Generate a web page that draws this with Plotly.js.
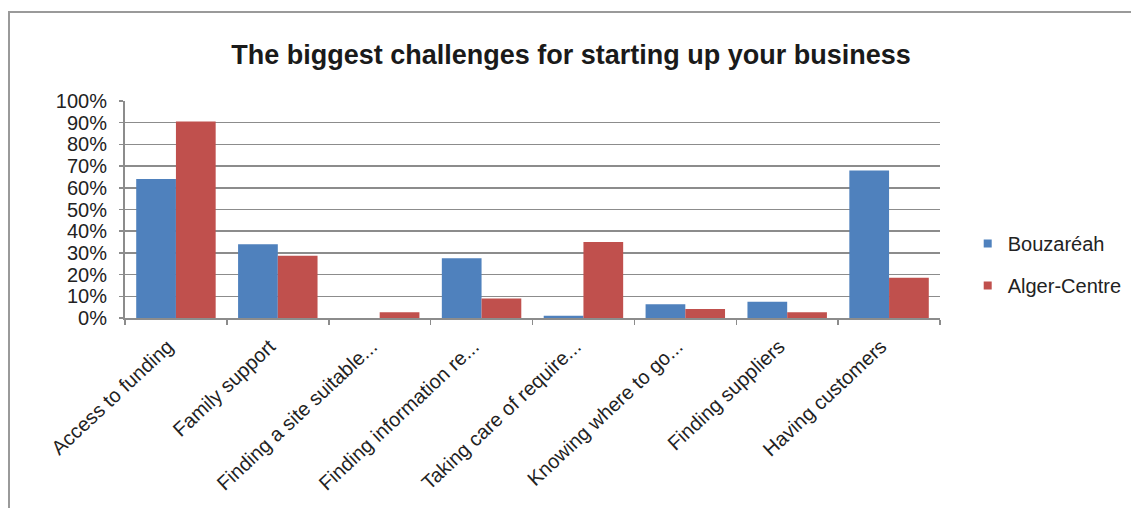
<!DOCTYPE html>
<html>
<head>
<meta charset="utf-8">
<script src="https://cdn.plot.ly/plotly-3.0.1.min.js"></script>
<style>
  html, body { margin: 0; padding: 0; background: #fff; }
  #wrap { position: relative; width: 1131px; height: 508px; overflow: hidden; }
  #frame { position: absolute; left: 8px; top: 11px; width: 1200px; height: 600px;
           border-left: 2px solid #9a9a9a; border-top: 2px solid #9a9a9a; pointer-events: none; }
  #chart { position: absolute; left: 0; top: 0; width: 1131px; height: 508px; }
</style>
</head>
<body>
<div id="wrap">
  <div id="chart"></div>
  <div id="frame"></div>
</div>
<script>
const categories = [
  "Access to funding",
  "Family support",
  "Finding a site suitable...",
  "Finding information re...",
  "Taking care of require...",
  "Knowing where to go...",
  "Finding suppliers",
  "Having customers"
];
const bouzareah = [0.64, 0.34, 0.0, 0.275, 0.01, 0.063, 0.075, 0.68];
const algerCentre = [0.905, 0.287, 0.026, 0.09, 0.35, 0.041, 0.026, 0.186];
const seriesNames = ["Bouzaréah", "Alger-Centre"];
const seriesColors = ["#4F81BD", "#C0504D"];
const yTickValues = [0, 0.1, 0.2, 0.3, 0.4, 0.5, 0.6, 0.7, 0.8, 0.9, 1.0];
const yTickLabels = ["0%", "10%", "20%", "30%", "40%", "50%", "60%", "70%", "80%", "90%", "100%"];

const font = "Liberation Sans, Arial, Helvetica, sans-serif";

const traces = [
  { type: "bar", name: seriesNames[0], x: categories, y: bouzareah,
    marker: { color: seriesColors[0] }, showlegend: false, hoverinfo: "skip" },
  { type: "bar", name: seriesNames[1], x: categories, y: algerCentre,
    marker: { color: seriesColors[1] }, showlegend: false, hoverinfo: "skip" },
  // legend-only entries (small square keys like the original)
  { type: "scatter", mode: "markers", name: seriesNames[0], x: [categories[0]], y: [null],
    marker: { color: seriesColors[0], symbol: "square", size: 8 }, legendgroup: "a", hoverinfo: "skip" },
  { type: "scatter", mode: "markers", name: seriesNames[1], x: [categories[0]], y: [null],
    marker: { color: seriesColors[1], symbol: "square", size: 8 }, legendgroup: "b", hoverinfo: "skip" }
];

const layout = {
  width: 1131, height: 508,
  margin: { l: 125, r: 191, t: 101, b: 190, autoexpand: false },
  paper_bgcolor: "rgba(0,0,0,0)",
  plot_bgcolor: "#fff",
  barmode: "group",
  bargap: 0.22,
  bargroupgap: 0,
  title: {
    text: "<b>The biggest challenges for starting up your business</b>",
    font: { family: font, size: 27, color: "#1a1a1a" },
    x: 571 / 1131, xref: "container", xanchor: "center",
    y: 1 - 55 / 508, yref: "container", yanchor: "middle"
  },
  xaxis: {
    type: "category",
    tickangle: -43,
    tickfont: { family: font, size: 20, color: "#222" },
    ticklabelstandoff: 7,
    ticklabelshift: -8,
    showline: true, linecolor: "#8c8c8c", linewidth: 2,
    ticks: "outside", tickson: "boundaries", ticklen: 5, tickcolor: "#8c8c8c", tickwidth: 1.5,
    showgrid: false, zeroline: false, fixedrange: true
  },
  yaxis: {
    range: [0, 1],
    tickvals: yTickValues, ticktext: yTickLabels,
    tickfont: { family: font, size: 20, color: "#222" },
    ticklabelstandoff: 8,
    showline: true, linecolor: "#8c8c8c", linewidth: 2,
    ticks: "outside", ticklen: 4, tickcolor: "#8c8c8c", tickwidth: 1.5,
    showgrid: true, gridcolor: "#8c8c8c", gridwidth: 1.5,
    zeroline: false, fixedrange: true
  },
  showlegend: true,
  legend: {
    x: 1.034, xanchor: "left", y: 0.246, yanchor: "middle",
    font: { family: font, size: 20, color: "#222" },
    traceorder: "grouped", tracegroupgap: 13,
    itemwidth: 30, bgcolor: "rgba(0,0,0,0)"
  }
};

Plotly.newPlot("chart", traces, layout, { displayModeBar: false, staticPlot: true });
</script>
</body>
</html>
